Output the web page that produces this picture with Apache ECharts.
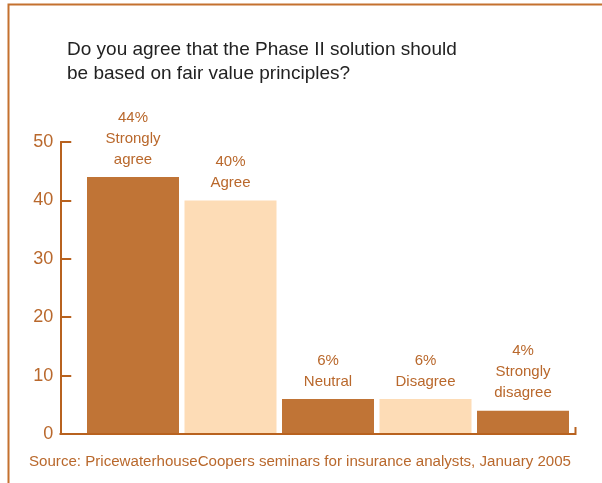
<!DOCTYPE html>
<html>
<head>
<meta charset="utf-8">
<script src="https://cdn.jsdelivr.net/npm/echarts@6/dist/echarts.min.js"></script>
<style>
  html, body { margin: 0; padding: 0; background: #fff; }
  #chart { width: 602px; height: 483px; }
</style>
</head>
<body>
<div id="chart"></div>
<script>
// Survey answers and their shares (%)
const categories = ['Strongly\nagree', 'Agree', 'Neutral', 'Disagree', 'Strongly\ndisagree'];
const shares = [44, 40, 6, 6, 4];
const yTicks = [0, 10, 20, 30, 40, 50];

const DARK = '#C07436';
const LIGHT = '#FDDCB6';
const ORANGE_TEXT = '#B9682C';
const AXIS = '#B8621F';
const FONT = '"Liberation Sans", Arial, Helvetica, sans-serif';

const chart = echarts.init(document.getElementById('chart'), null, { renderer: 'canvas' });

chart.setOption({
  animation: false,
  backgroundColor: '#ffffff',
  title: {
    text: 'Do you agree that the Phase II solution should\nbe based on fair value principles?',
    left: 67,
    top: 38,
    padding: 0,
    textStyle: { fontFamily: FONT, fontSize: 19, fontWeight: 'normal', color: '#222222', lineHeight: 24 }
  },
  grid: { left: 84.25, right: 30.25, top: 142, bottom: 49, containLabel: false },
  xAxis: {
    type: 'category',
    data: categories,
    axisLine: { show: false },
    axisTick: { show: false },
    axisLabel: { show: false },
    splitLine: { show: false }
  },
  yAxis: {
    type: 'value',
    min: yTicks[0],
    max: yTicks[yTicks.length - 1],
    interval: 10,
    offset: 24,
    axisLine: { show: true, lineStyle: { color: AXIS, width: 2 } },
    axisTick: { show: true, inside: true, length: 11, lineStyle: { color: AXIS, width: 2 } },
    axisLabel: { margin: 7, fontFamily: FONT, fontSize: 18, color: ORANGE_TEXT },
    splitLine: { show: false }
  },
  series: [{
    type: 'bar',
    barWidth: 92,
    data: shares.map((v, i) => ({ value: v, itemStyle: { color: i % 2 === 0 ? DARK : LIGHT } })),
    label: {
      show: true,
      position: 'top',
      distance: 7,
      fontFamily: FONT,
      fontSize: 15,
      lineHeight: 21,
      color: ORANGE_TEXT,
      align: 'center',
      formatter: p => p.value + '%\n' + p.name
    }
  }],
  graphic: [
    // frame lines on the top and left edges
    { type: 'polyline', shape: { points: [[8.5, 483], [8.5, 4.5], [602, 4.5]] },
      style: { stroke: '#C4712F', lineWidth: 2, fill: null }, silent: true },
    // x baseline and its end tick
    { type: 'polyline', shape: { points: [[59.5, 434], [575.5, 434], [575.5, 427]] },
      style: { stroke: AXIS, lineWidth: 2, fill: null }, silent: true, z: 10 },
    // source note
    { type: 'text', left: 29, top: 454,
      style: { text: 'Source: PricewaterhouseCoopers seminars for insurance analysts, January 2005',
        font: '15.1px ' + FONT, fill: ORANGE_TEXT } }
  ]
});
</script>
</body>
</html>
